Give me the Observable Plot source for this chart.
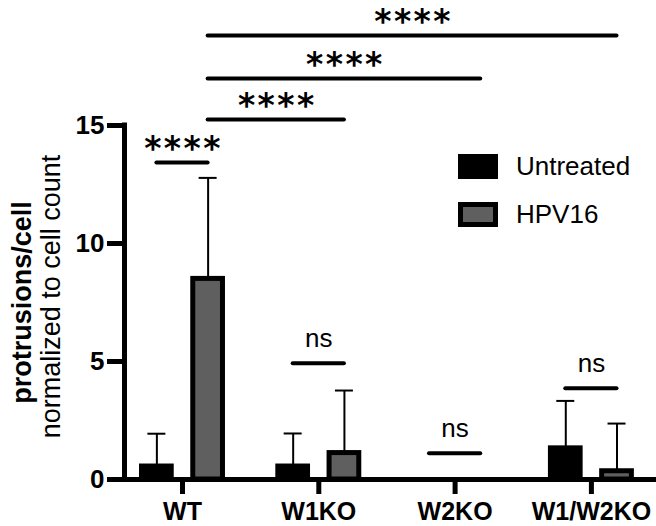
<!DOCTYPE html>
<html>
<head>
<meta charset="utf-8">
<script src="https://cdn.jsdelivr.net/npm/d3@7"></script>
<script src="https://cdn.jsdelivr.net/npm/@observablehq/plot@0.6"></script>
<style>
  html, body { margin: 0; padding: 0; background: #fff; }
  #wrap { position: relative; width: 656px; height: 526px; font-family: "Liberation Sans", Arial, sans-serif; }
  #legend { position: absolute; left: 458px; top: 151px; }
  .item { position: absolute; left: 0; display: flex; align-items: center; white-space: nowrap; }
  .sw { width: 40px; height: 25px; box-sizing: border-box; }
  .lab { margin-left: 18px; font-size: 26px; color: #000; }
</style>
</head>
<body>
<div id="wrap"></div>
<script>
// ---- data ----
const categories = ["WT", "W1KO", "W2KO", "W1/W2KO"];
const series = ["Untreated", "HPV16"];
const untreatedMean = [0.55, 0.55, 0, 1.32];
const untreatedSD   = [1.39, 1.40, 0, 2.01];
const hpv16Mean     = [8.50, 1.12, 0, 0.35];
const hpv16SD       = [4.28, 2.65, 0, 2.02];
const yTicks = [0, 5, 10, 15];
// significance comparisons: [group, series] pairs, bracket level (y units), label
const comparisons = [
  {g1: 0, s1: 0, g2: 0, s2: 1, level: 13.43, label: "****"},
  {g1: 0, s1: 1, g2: 1, s2: 1, level: 15.25, label: "****"},
  {g1: 0, s1: 1, g2: 2, s2: 1, level: 16.99, label: "****"},
  {g1: 0, s1: 1, g2: 3, s2: 1, level: 18.81, label: "****"},
  {g1: 1, s1: 0, g2: 1, s2: 1, level: 4.93, label: "ns"},
  {g1: 2, s1: 0, g2: 2, s2: 1, level: 1.11, label: "ns"},
  {g1: 3, s1: 0, g2: 3, s2: 1, level: 3.87, label: "ns"}
];
const colors = {"Untreated": "#000000", "HPV16": "#5f5f5f"};

// ---- layout helpers ----
const offset = 0.188;   // series offset from group center (x units)
const halfW = 0.109;    // bar half width (x units)
const capHalf = 0.066;  // error cap half width
const pos = (g, s) => g + (s === 0 ? -offset : offset);

const bars = [];
categories.forEach((c, i) => {
  bars.push({g: i, s: 0, series: "Untreated", mean: untreatedMean[i], sd: untreatedSD[i]});
  bars.push({g: i, s: 1, series: "HPV16", mean: hpv16Mean[i], sd: hpv16SD[i]});
});
bars.forEach(d => { d.x = pos(d.g, d.s); });
const barsErr = bars.filter(d => d.sd > 0);
comparisons.forEach(d => { d.xa = pos(d.g1, d.s1); d.xb = pos(d.g2, d.s2); d.xm = (d.xa + d.xb) / 2; });
const stars = comparisons.filter(d => d.label !== "ns");
const ns = comparisons.filter(d => d.label === "ns");

const xMin = -0.4255, xMax = 3.4776;

const chart = Plot.plot({
  width: 656,
  height: 526,
  marginLeft: 124,
  marginRight: 0,
  marginTop: 125,
  marginBottom: 47,
  style: {fontFamily: "'Liberation Sans', Arial, sans-serif", color: "#000", background: "#fff"},
  x: {type: "linear", domain: [xMin, xMax], axis: null},
  y: {domain: [0, 15], axis: null},
  marks: [
    // error bars (upper only)
    Plot.ruleX(barsErr, {x: "x", y1: "mean", y2: d => d.mean + d.sd, stroke: "#000", strokeWidth: 2}),
    Plot.ruleY(barsErr, {x1: d => d.x - capHalf, x2: d => d.x + capHalf, y: d => d.mean + d.sd, stroke: "#000", strokeWidth: 2}),
    // bars
    Plot.rect(bars.filter(d => d.mean > 0), {
      x1: d => d.x - halfW, x2: d => d.x + halfW, y1: 0, y2: "mean",
      fill: d => colors[d.series], stroke: "#000", strokeWidth: 5
    }),
    // axes
    Plot.axisY({ticks: yTicks, tickSize: 17, tickPadding: 3, strokeWidth: 5, fontSize: 26, fontWeight: "bold"}),
    Plot.axisX({ticks: [0, 1, 2, 3], tickFormat: i => categories[i], tickSize: 15, tickPadding: 8, strokeWidth: 5, fontSize: 25, fontWeight: "bold"}),
    Plot.ruleX([xMin], {y1: 0, y2: 15, stroke: "#000", strokeWidth: 5, strokeLinecap: "square"}),
    Plot.ruleY([0], {x1: xMin, x2: xMax, stroke: "#000", strokeWidth: 5, strokeLinecap: "square"}),
    // significance brackets
    Plot.ruleY(comparisons, {x1: "xa", x2: "xb", y: "level", stroke: "#000", strokeWidth: 4, strokeLinecap: "round"}),
    Plot.text(stars, {x: "xm", y: "level", text: "label", lineAnchor: "bottom", dy: -3, dx: 1,
      fontFamily: "DejaVu Sans", fontWeight: "bold", fontSize: 33, fill: "#000", ariaLabel: "stars"}),
    Plot.text(ns, {x: "xm", y: "level", text: "label", lineAnchor: "bottom", dy: -16,
      fontSize: 26, fill: "#000"}),
    // y axis title (two lines)
    Plot.text(["protrusions/cell"], {frameAnchor: "left", text: d => d, rotate: -90, dx: -94, lineAnchor: "bottom",
      textAnchor: "middle", fontSize: 27, fontWeight: "bold", fill: "#000"}),
    Plot.text(["normalized to cell count"], {frameAnchor: "left", text: d => d, rotate: -90, dx: -65, dy: -6, lineAnchor: "bottom",
      textAnchor: "middle", fontSize: 27, fill: "#000"})
  ]
});

// widen the spacing of the asterisks a little
d3.select(chart).selectAll("text").filter(function() { return this.textContent === "****"; })
  .style("letter-spacing", "2.4px");

const wrap = document.getElementById("wrap");
wrap.appendChild(chart);

// legend
const legend = document.createElement("div");
legend.id = "legend";
series.forEach((s, i) => {
  const item = document.createElement("div");
  item.className = "item";
  item.style.top = (i * 48) + "px";
  const sw = document.createElement("div");
  sw.className = "sw";
  sw.style.background = colors[s];
  sw.style.border = "5px solid #000";
  const lab = document.createElement("span");
  lab.className = "lab";
  lab.textContent = s;
  item.appendChild(sw);
  item.appendChild(lab);
  legend.appendChild(item);
});
wrap.appendChild(legend);
</script>
</body>
</html>
